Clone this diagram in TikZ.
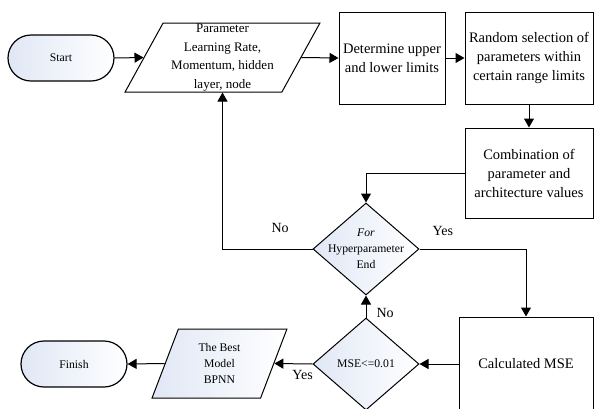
\documentclass[tikz,border=0pt]{standalone}
\usepackage{fontspec}
\setmainfont{Liberation Serif}
\usetikzlibrary{shapes.geometric,shapes.misc,arrows.meta}
\definecolor{paleblue}{RGB}{224,231,245}

\begin{document}
\begin{tikzpicture}[x=1pt,y=-1pt,line width=1pt,
    term_node/.style={rounded rectangle,draw,line width=1.2pt,minimum width=106pt,minimum height=46pt,inner sep=0pt,left color=paleblue,right color=white,font=\fontsize{11.7}{14}\selectfont},
    box_node/.style={rectangle,draw,inner sep=0pt,align=center,font=\fontsize{14.5}{19}\selectfont},
    io_node/.style={trapezium,trapezium left angle=66.5,trapezium right angle=113.5,trapezium stretches=true,draw,minimum height=69pt,inner sep=0pt},
    dec_node/.style={diamond,draw,minimum width=106pt,minimum height=92pt,inner sep=0pt,left color=paleblue,right color=white},
    small_text/.style={align=center,font=\fontsize{11.7}{16}\selectfont},
    lbl/.style={font=\fontsize{14}{16}\selectfont,inner sep=1pt},
    arr/.style={-{Triangle[length=9pt,width=10pt]}}]
    \useasboundingbox (0,0) rectangle (595,408);

    \node[term_node] (start) at (61,58) {Start};
    \node[io_node, minimum width=195pt,
        label={[align=center,font=\fontsize{13}{18.5}\selectfont]center:Parameter\\Learning Rate,\\Momentum, hidden\\layer, node}] (param) at (222.5,57.5) {\phantom{M}};
    \node[box_node, minimum width=106pt, minimum height=92pt] (limits) at (392,58) {Determine upper\\and lower limits};
    \node[box_node, minimum width=128pt, minimum height=92pt] (random) at (529,58) {Random selection of\\parameters within\\certain range limits};
    \node[box_node, minimum width=128pt, minimum height=90pt] (combine) at (529,173) {Combination of\\parameter and\\architecture values};
    \node[dec_node, label={[small_text]center:\textit{For}\\Hyperparameter\\End}] (hyper) at (366,249) {};
    \node[box_node, minimum width=134pt, minimum height=94pt] (mse) at (526,364) {Calculated MSE};
    \node[dec_node, label={[small_text]center:MSE<=0.01}] (check) at (366,364) {};
    \node[io_node, minimum width=135pt, left color=paleblue, right color=white,
        label={[small_text]center:The Best\\Model\\BPNN}] (best) at (219.5,363.5) {\phantom{M}};
    \node[term_node] (finish) at (74,364) {Finish};

    \draw[arr] (start.east) -- (param.west);
    \draw[arr] (param.east) -- (limits.west);
    \draw[arr] (limits.east) -- (random.west);
    \draw[arr] (random.south) -- (combine.north);
    \draw[arr] (combine.west) -| (hyper.north);
    \draw[arr] (hyper.west) -| node[lbl, pos=0.18, above=15pt] {No} (param.south);
    \draw[arr] (hyper.east) -| node[lbl, pos=0.11, above=12pt] {Yes} (mse.north);
    \draw[arr] (mse.west) -- (check.east);
    \draw[arr] (check.north) -- node[lbl, pos=0.2, right=9pt] {No} (hyper.south);
    \draw[arr] (check.west) -- node[lbl, pos=0.26, below=5pt] {Yes} (best.east);
    \draw[arr] (best.west) -- (finish.east);

\end{tikzpicture}
\end{document}
